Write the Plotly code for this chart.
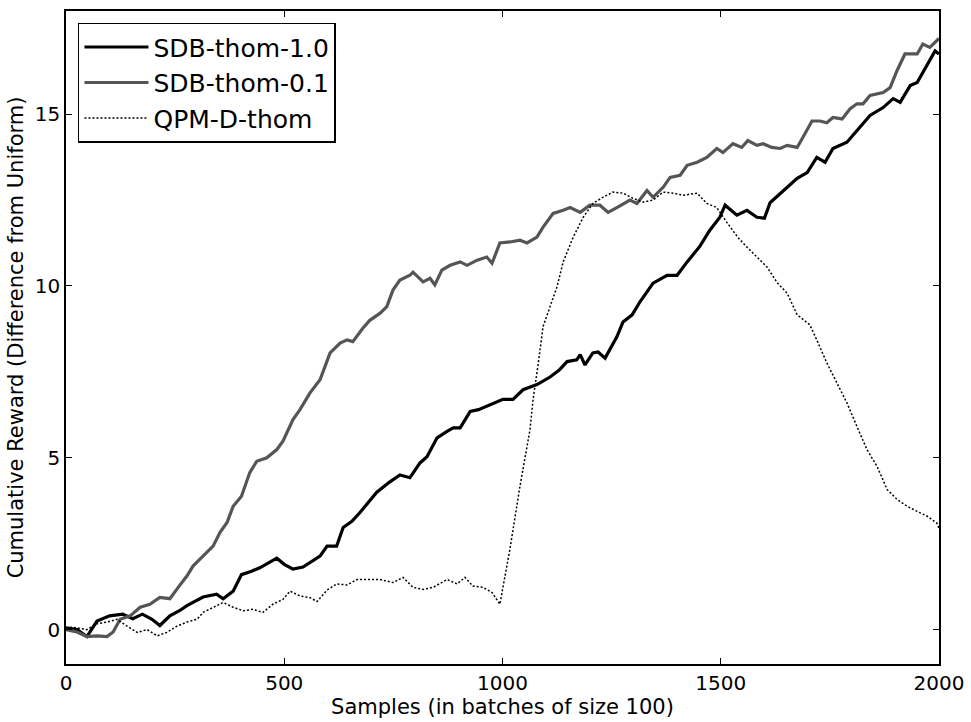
import plotly.graph_objects as go

# ---- data ----
x_sdb10 = [0, 25, 48, 71, 100, 130, 153, 175, 197, 215, 238, 260, 277, 300, 314, 345, 360, 383, 402, 425,
           444, 465, 483, 500, 520, 543, 560, 582, 598, 620, 635, 655, 673, 692, 712, 742, 765, 788, 811, 827,
           850, 873, 887, 903, 926, 945, 964, 1001, 1024, 1047, 1079, 1109, 1130, 1148, 1170, 1178, 1189, 1207,
           1219, 1235, 1262, 1276, 1297, 1315, 1345, 1377, 1400, 1423, 1452, 1475, 1498, 1510, 1537, 1560, 1583,
           1600, 1613, 1643, 1675, 1698, 1720, 1739, 1757, 1789, 1812, 1842, 1872, 1895, 1911, 1934, 1950, 1973,
           1991, 2000]
y_sdb10 = [0.05, 0.0, -0.2, 0.25, 0.4, 0.45, 0.32, 0.45, 0.3, 0.12, 0.4, 0.55, 0.7, 0.85, 0.95, 1.03, 0.9, 1.12, 1.6, 1.7,
           1.8, 1.95, 2.08, 1.9, 1.76, 1.82, 1.95, 2.14, 2.43, 2.43, 2.97, 3.15, 3.4, 3.7, 4.0, 4.3, 4.5, 4.42, 4.85, 5.03,
           5.58, 5.77, 5.87, 5.87, 6.35, 6.4, 6.5, 6.7, 6.7, 6.98, 7.13, 7.35, 7.55, 7.8, 7.85, 8.0, 7.7, 8.05,
           8.08, 7.9, 8.52, 8.95, 9.16, 9.54, 10.08, 10.31, 10.31, 10.7, 11.15, 11.62, 12.0, 12.35, 12.06, 12.2, 12.0,
           11.97, 12.42, 12.75, 13.13, 13.3, 13.74, 13.6, 14.0, 14.18, 14.52, 14.96, 15.19, 15.45, 15.34, 15.83, 15.92, 16.46,
           16.84, 16.75]

x_sdb01 = [0, 25, 48, 71, 94, 108, 124, 147, 170, 192, 215, 238, 257, 277, 291, 307, 323, 337, 353, 369, 383, 402,
           421, 437, 460, 483, 497, 520, 536, 559, 582, 605, 628, 644, 657, 680, 696, 719, 735, 749, 765, 788, 795,
           818, 834, 845, 861, 880, 903, 919, 942, 964, 976, 994, 1017, 1040, 1056, 1079, 1093, 1116, 1139, 1155,
           1178, 1200, 1223, 1242, 1265, 1292, 1308, 1331, 1345, 1368, 1384, 1407, 1423, 1446, 1468, 1491, 1505,
           1528, 1548, 1562, 1583, 1597, 1617, 1636, 1652, 1675, 1688, 1709, 1727, 1743, 1757, 1778, 1796, 1812,
           1826, 1842, 1872, 1888, 1904, 1922, 1950, 1963, 1979, 2000]
y_sdb01 = [0.0, -0.07, -0.2, -0.18, -0.2, -0.07, 0.3, 0.4, 0.65, 0.74, 0.94, 0.9, 1.23, 1.56, 1.85, 2.05, 2.25, 2.43, 2.83, 3.12, 3.59, 3.88,
           4.57, 4.9, 5.0, 5.24, 5.48, 6.11, 6.4, 6.89, 7.27, 8.05, 8.34, 8.43, 8.38, 8.77, 9.0, 9.2, 9.4, 9.88, 10.17, 10.31, 10.4,
           10.12, 10.22, 10.03, 10.46, 10.6, 10.7, 10.6, 10.75, 10.84, 10.66, 11.25, 11.28, 11.33, 11.25, 11.42, 11.71, 12.11, 12.2, 12.28,
           12.14, 12.35, 12.35, 12.14, 12.3, 12.5, 12.4, 12.78, 12.58, 12.87, 13.16, 13.22, 13.51, 13.6, 13.74, 14.0, 13.88,
           14.14, 14.03, 14.23, 14.09, 14.14, 14.03, 14.0, 14.09, 14.03, 14.32, 14.8, 14.8, 14.75, 14.9, 14.86, 15.15, 15.3,
           15.3, 15.54, 15.63, 15.77, 16.27, 16.75, 16.75, 17.04, 16.94, 17.2]

x_qpm = [0, 16, 48, 71, 94, 117, 140, 163, 186, 209, 231, 254, 277, 300, 314, 337, 360, 383, 406, 428, 451, 474,
         497, 513, 536, 559, 575, 598, 620, 644, 667, 690, 719, 749, 772, 795, 818, 841, 873, 896, 914, 932, 955,
         976, 994, 1017, 1040, 1063, 1070, 1081, 1093, 1109, 1125, 1139, 1162, 1185, 1207, 1230, 1253, 1276, 1299,
         1322, 1345, 1368, 1391, 1414, 1446, 1468, 1491, 1514, 1540, 1560, 1583, 1606, 1629, 1652, 1675, 1690,
         1704, 1720, 1743, 1766, 1789, 1812, 1835, 1858, 1881, 1904, 1927, 1950, 1973, 1995, 2000]
y_qpm = [0.05, 0.07, 0.0, 0.17, 0.22, 0.3, 0.1, -0.08, 0.0, -0.18, -0.08, 0.1, 0.22, 0.3, 0.5, 0.65, 0.79, 0.65, 0.55, 0.59, 0.5, 0.74,
         0.88, 1.12, 0.98, 0.93, 0.82, 1.15, 1.33, 1.3, 1.46, 1.46, 1.46, 1.37, 1.52, 1.23, 1.17, 1.23, 1.46, 1.33, 1.52, 1.27, 1.23,
         1.08, 0.74, 2.34, 4.17, 5.82, 6.7, 7.66, 8.82, 9.4, 9.98, 10.7, 11.42, 12.0, 12.4, 12.58, 12.73, 12.7, 12.55,
         12.44, 12.5, 12.73, 12.7, 12.64, 12.7, 12.4, 12.28, 11.85, 11.4, 11.13, 10.84, 10.55, 10.1, 9.79, 9.16, 9.0,
         8.87, 8.43, 7.76, 7.18, 6.6, 5.91, 5.24, 4.75, 4.08, 3.79, 3.59, 3.44, 3.3, 3.1, 2.95]

series_names = ["SDB-thom-1.0", "SDB-thom-0.1", "QPM-D-thom"]
x_ticks = [0, 500, 1000, 1500, 2000]
y_ticks = [0, 5, 10, 15]

FONT = "DejaVu Sans"

fig = go.Figure()
fig.add_trace(go.Scatter(x=x_sdb10, y=y_sdb10, mode="lines", name=series_names[0],
                         line=dict(color="#000000", width=3.2)))
fig.add_trace(go.Scatter(x=x_sdb01, y=y_sdb01, mode="lines", name=series_names[1],
                         line=dict(color="#555555", width=3.2)))
fig.add_trace(go.Scatter(x=x_qpm, y=y_qpm, mode="lines", name=series_names[2],
                         line=dict(color="#000000", width=1.5, dash="2px,2px")))

axis_common = dict(showline=True, linecolor="black", linewidth=1.5, mirror="allticks",
                   ticks="inside", ticklen=6, tickwidth=1, tickcolor="black",
                   showgrid=False, zeroline=False,
                   tickfont=dict(family=FONT, size=20, color="black"))

fig.update_xaxes(range=[0, 2000], tickvals=x_ticks, ticktext=[str(v) for v in x_ticks],
                 title=dict(text="Samples (in batches of size 100)", font=dict(family=FONT, size=21, color="black"),
                            standoff=6),
                 **axis_common)
fig.update_yaxes(range=[-1, 18], tickvals=y_ticks, ticktext=[str(v) for v in y_ticks],
                 title=dict(text="Cumulative Reward (Difference from Uniform)",
                            font=dict(family=FONT, size=21, color="black"), standoff=5),
                 **axis_common)

fig.update_layout(
    width=971, height=722,
    margin=dict(l=66, r=32, t=11, b=58, autoexpand=False),
    paper_bgcolor="white", plot_bgcolor="white",
    font=dict(family=FONT, size=20, color="black"),
    showlegend=True,
    legend=dict(x=0.0137, y=0.982, xanchor="left", yanchor="top",
                bgcolor="white", bordercolor="black", borderwidth=1.5,
                font=dict(family=FONT, size=25, color="black"),
                itemwidth=64, tracegroupgap=0),
)

fig.write_html("out.html")
